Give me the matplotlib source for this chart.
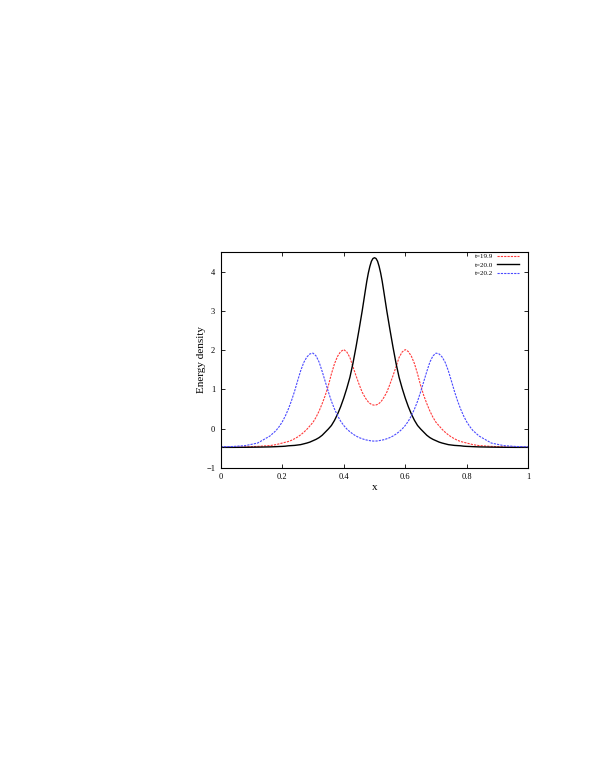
import matplotlib
matplotlib.use("Agg")
import matplotlib.pyplot as plt

plt.rcParams['font.family'] = ['Liberation Serif', 'DejaVu Serif']

x = [0.00, 0.04, 0.08, 0.12, 0.16, 0.18, 0.19,
     0.20, 0.21, 0.22, 0.23, 0.24, 0.25, 0.26, 0.27, 0.28, 0.29,
     0.30, 0.31, 0.32, 0.33, 0.34, 0.35, 0.36, 0.37, 0.38, 0.39,
     0.40, 0.41, 0.42, 0.43, 0.44, 0.45, 0.46, 0.47, 0.475, 0.48, 0.485, 0.49, 0.495,
     0.50,
     0.505, 0.51, 0.515, 0.52, 0.525, 0.53, 0.54, 0.55, 0.56, 0.57, 0.58, 0.59, 0.60,
     0.61, 0.62, 0.63, 0.64, 0.65, 0.66, 0.67, 0.68, 0.69, 0.70,
     0.71, 0.72, 0.73, 0.74, 0.75, 0.76, 0.77, 0.78, 0.79, 0.80,
     0.81, 0.82, 0.84, 0.88, 0.92, 0.96, 1.00]

t199 = [-0.480, -0.476, -0.468, -0.455, -0.435, -0.41, -0.39,
        -0.37, -0.35, -0.33, -0.30, -0.26, -0.215, -0.16, -0.095, -0.02, 0.07,
        0.16, 0.29, 0.45, 0.64, 0.85, 1.10, 1.40, 1.66, 1.85, 1.97,
        2.02, 1.96, 1.82, 1.58, 1.35, 1.13, 0.93, 0.79, 0.73, 0.68, 0.645, 0.62, 0.605,
        0.60,
        0.605, 0.62, 0.645, 0.68, 0.73, 0.79, 0.93, 1.13, 1.35, 1.58, 1.82, 1.96, 2.02,
        1.97, 1.85, 1.66, 1.40, 1.10, 0.85, 0.64, 0.45, 0.29, 0.16,
        0.07, -0.02, -0.095, -0.16, -0.215, -0.26, -0.30, -0.33, -0.35, -0.37,
        -0.39, -0.41, -0.435, -0.455, -0.468, -0.476, -0.480]

t200 = [-0.480, -0.480, -0.478, -0.474, -0.468, -0.462, -0.458,
        -0.455, -0.45, -0.44, -0.435, -0.43, -0.42, -0.41, -0.39, -0.37, -0.345,
        -0.31, -0.275, -0.23, -0.17, -0.09, -0.01, 0.08, 0.21, 0.37, 0.56,
        0.78, 1.03, 1.31, 1.67, 2.09, 2.54, 3.01, 3.52, 3.77, 3.98, 4.15, 4.28, 4.35,
        4.37,
        4.35, 4.28, 4.15, 3.98, 3.77, 3.52, 3.01, 2.54, 2.09, 1.67, 1.31, 1.03, 0.78,
        0.56, 0.37, 0.21, 0.08, -0.01, -0.09, -0.17, -0.23, -0.275, -0.31,
        -0.345, -0.37, -0.39, -0.41, -0.42, -0.43, -0.435, -0.44, -0.45, -0.455,
        -0.458, -0.462, -0.468, -0.474, -0.478, -0.480, -0.480]

t202 = [-0.465, -0.458, -0.435, -0.37, -0.19, -0.05, 0.05,
        0.17, 0.32, 0.50, 0.71, 0.95, 1.22, 1.48, 1.69, 1.83, 1.91,
        1.93, 1.86, 1.70, 1.46, 1.20, 0.94, 0.70, 0.50, 0.33, 0.19,
        0.08, -0.01, -0.08, -0.14, -0.19, -0.23, -0.26, -0.285, -0.293, -0.30, -0.308, -0.315, -0.318,
        -0.32,
        -0.318, -0.315, -0.308, -0.30, -0.293, -0.285, -0.26, -0.23, -0.19, -0.14, -0.08, -0.01, 0.08,
        0.19, 0.33, 0.50, 0.70, 0.94, 1.20, 1.46, 1.70, 1.86, 1.93,
        1.91, 1.83, 1.69, 1.48, 1.22, 0.95, 0.71, 0.50, 0.32, 0.17,
        0.05, -0.05, -0.19, -0.37, -0.435, -0.458, -0.465]

labels = ["t=19.9", "t=20.0", "t=20.2"]
xticks = [0, 0.2, 0.4, 0.6, 0.8, 1]
xticklabels = ["0", "0.2", "0.4", "0.6", "0.8", "1"]
yticks = [-1, 0, 1, 2, 3, 4]

fig = plt.figure(figsize=(5.95, 7.70), dpi=100)
ax = fig.add_axes([0.3709, 0.3926, 0.5170, 0.2798])

ax.plot(x, t199, color='#ff3a3a', lw=0.8, ls=(0, (2, 1)), label=labels[0])
ax.plot(x, t200, color='black', lw=1.0, ls='-', label=labels[1])
ax.plot(x, t202, color='#4a4aff', lw=0.8, ls=(0, (2, 1)), label=labels[2])

ax.set_xlim(0, 1)
ax.set_ylim(-1, 4.51)
ax.set_xticks(xticks)
ax.set_xticklabels(xticklabels)
ax.set_yticks(yticks)
ax.tick_params(direction='in', length=3, width=0.6, labelsize=6,
               top=True, right=True, pad=4)
for s in ax.spines.values():
    s.set_linewidth(0.8)

ax.set_xlabel("x", fontsize=8, labelpad=1)
ax.set_ylabel("Energy density", fontsize=8, labelpad=0)

leg = ax.legend(loc='upper right', bbox_to_anchor=(0.97, 0.996),
                fontsize=5, frameon=False,
                markerfirst=False, handlelength=3.2, handletextpad=0.6,
                labelspacing=0.4, borderaxespad=0, borderpad=0)

fig.savefig("out.png", dpi=100)
